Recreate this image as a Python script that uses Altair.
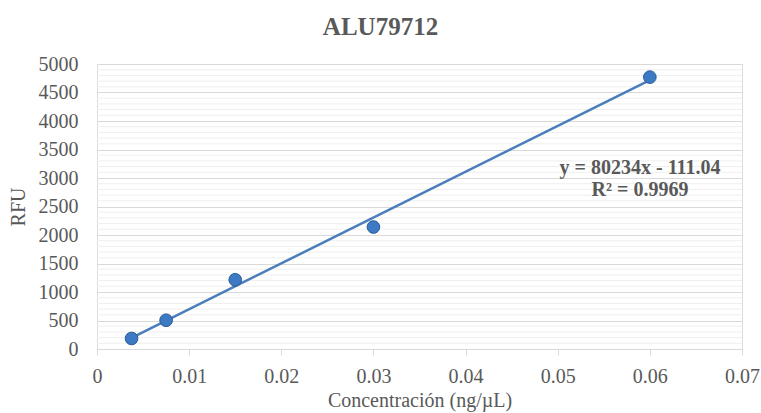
import altair as alt
import pandas as pd

conc = [0.00375, 0.0075, 0.015, 0.03, 0.06]
rfu = [185, 505, 1215, 2140, 4770]
y_ticks = [0, 500, 1000, 1500, 2000, 2500, 3000, 3500, 4000, 4500, 5000]
x_ticks = [0, 0.01, 0.02, 0.03, 0.04, 0.05, 0.06, 0.07]
minor_grid = [v for v in range(100, 5000, 100) if v % 500 != 0]
eq_line1 = "y = 80234x - 111.04"
eq_line2 = "R\u00b2 = 0.9969"

df = pd.DataFrame({"x": conc, "y": rfu})
font = "Liberation Serif"
grey = "#595959"

xscale = alt.Scale(domain=[0, 0.07], nice=False)
yscale = alt.Scale(domain=[0, 5000], nice=False)

xaxis = alt.Axis(title="Concentración (ng/µL)", values=x_ticks,
                 format="~g", grid=False, domainColor="#d9d9d9", tickColor="#d9d9d9", tickSize=6,
                 labelOverlap=False, labelFlush=False, labelPadding=11, labelFont=font, labelFontSize=20, labelColor=grey,
                 titleFont=font, titleFontSize=20, titleColor=grey, titleFontWeight="normal", titlePadding=4)
yaxis = alt.Axis(title="RFU", values=y_ticks, domain=False, ticks=False, format="d",
                 labelOverlap=False, labelFlush=False, gridColor="#d9d9d9",
                 labelPadding=19, labelFont=font, labelFontSize=20, labelColor=grey,
                 titleFont=font, titleFontSize=20, titleColor=grey, titleFontWeight="normal", titlePadding=10)

xenc = alt.X("x:Q", scale=xscale, axis=xaxis)
yenc = alt.Y("y:Q", scale=yscale, axis=yaxis)

minor = alt.Chart(pd.DataFrame({"g": minor_grid})).mark_rule(color="#efefef", strokeWidth=1).encode(
    y=alt.Y("g:Q", scale=yscale, axis=yaxis))
trend = alt.Chart(df).transform_regression("x", "y", extent=[0.00375, 0.06]).mark_line(
    color="#4a7ebb", strokeWidth=2.5).encode(x=xenc, y=yenc)
pts = alt.Chart(df).mark_point(filled=True, size=160, color="#3c7ac4", stroke="#285a98", strokeWidth=1, opacity=1).encode(
    x=xenc, y=yenc)

tstyle = dict(font=font, fontSize=20, fontWeight="bold", color=grey, align="center", baseline="middle")
txt1 = alt.Chart(pd.DataFrame({"t": [eq_line1]})).mark_text(**tstyle).encode(
    x=alt.value(543), y=alt.value(104), text="t:N")
txt2 = alt.Chart(pd.DataFrame({"t": [eq_line2]})).mark_text(**tstyle).encode(
    x=alt.value(543), y=alt.value(126), text="t:N")

chart = alt.layer(minor, trend, pts, txt1, txt2).properties(
    width=645, height=285,
    title=alt.TitleParams("ALU79712", font=font, fontSize=25, fontWeight="bold", color=grey, dx=-39, offset=14),
    autosize=alt.AutoSizeParams(type="none"), padding={"left": 97, "top": 64, "right": 19, "bottom": 64}
).configure_view(stroke=None).configure(background="white")

chart.save("out.html", embed_options={"renderer": "svg", "actions": False})
